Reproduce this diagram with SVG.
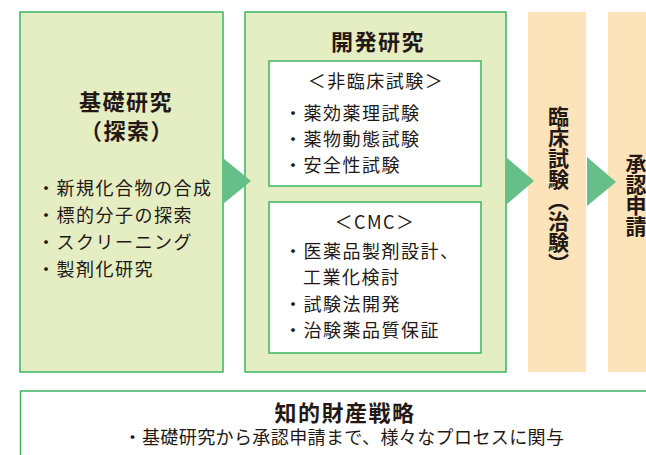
<svg xmlns="http://www.w3.org/2000/svg" width="646" height="455" viewBox="0 0 646 455">
<style>
text{font-family:"Noto Sans CJK JP","Noto Sans",sans-serif;fill:#231815}
.g{fill:#e5edc3;stroke:#3bb463;stroke-width:1.5}
.w{fill:#ffffff;stroke:#3bb463;stroke-width:1.5}
.p{fill:#fde3b9}
.ar{fill:#66bf89}
.t{font-size:22px;font-weight:bold;letter-spacing:1.5px}
.b{font-size:18px;letter-spacing:1.5px}
.v{font-size:21px;font-weight:bold;writing-mode:vertical-rl}
</style>
<rect width="646" height="455" fill="#ffffff"/>
<g id="kiso">
<rect class="g" x="20" y="12" width="203" height="360"/>
<text class="t" x="126" y="110" text-anchor="middle">基礎研究</text>
<text class="t" x="127" y="139" text-anchor="middle">（探索）</text>
<text class="b" x="37" y="195">・新規化合物の合成</text>
<text class="b" x="37" y="222">・標的分子の探索</text>
<text class="b" x="37" y="249">・スクリーニング</text>
<text class="b" x="37" y="276">・製剤化研究</text>
</g>
<g id="kaihatsu">
<rect class="g" x="245" y="12" width="261" height="360"/>
<text class="t" x="378" y="50" text-anchor="middle">開発研究</text>
<g id="hirinsho">
<rect class="w" x="269" y="61" width="212" height="125"/>
<text class="b" x="376" y="88" text-anchor="middle">＜非臨床試験＞</text>
<text class="b" x="284" y="120">・薬効薬理試験</text>
<text class="b" x="284" y="146">・薬物動態試験</text>
<text class="b" x="284" y="172">・安全性試験</text>
</g>
<g id="cmc">
<rect class="w" x="269" y="202" width="212" height="151"/>
<text class="b" x="375" y="229" text-anchor="middle">＜CMC＞</text>
<text class="b" x="284" y="258">・医薬品製剤設計、</text>
<text class="b" x="303" y="284">工業化検討</text>
<text class="b" x="284" y="311">・試験法開発</text>
<text class="b" x="284" y="337">・治験薬品質保証</text>
</g>
</g>
<g id="rinsho">
<rect class="p" x="528" y="12" width="58" height="360"/>
<text class="v" x="558.5" y="106">臨床試験（治験）</text>
</g>
<g id="shonin">
<rect class="p" x="608" y="12" width="40" height="360"/>
<text class="v" x="636" y="153">承認申請</text>
</g>
<g id="chizai">
<rect class="w" x="20.5" y="391" width="640" height="80"/>
<text class="t" x="345" y="421" text-anchor="middle">知的財産戦略</text>
<text class="b" x="344" y="444" text-anchor="middle" style="letter-spacing:0.4px">・基礎研究から承認申請まで、様々なプロセスに関与</text>
</g>
<g id="connectors">
<polygon class="ar" points="223,158 251,181 223,204"/>
<polygon class="ar" points="506,157 534,181 506,205"/>
<polygon class="ar" points="587,157 616,182 587,206"/>
</g>
</svg>
